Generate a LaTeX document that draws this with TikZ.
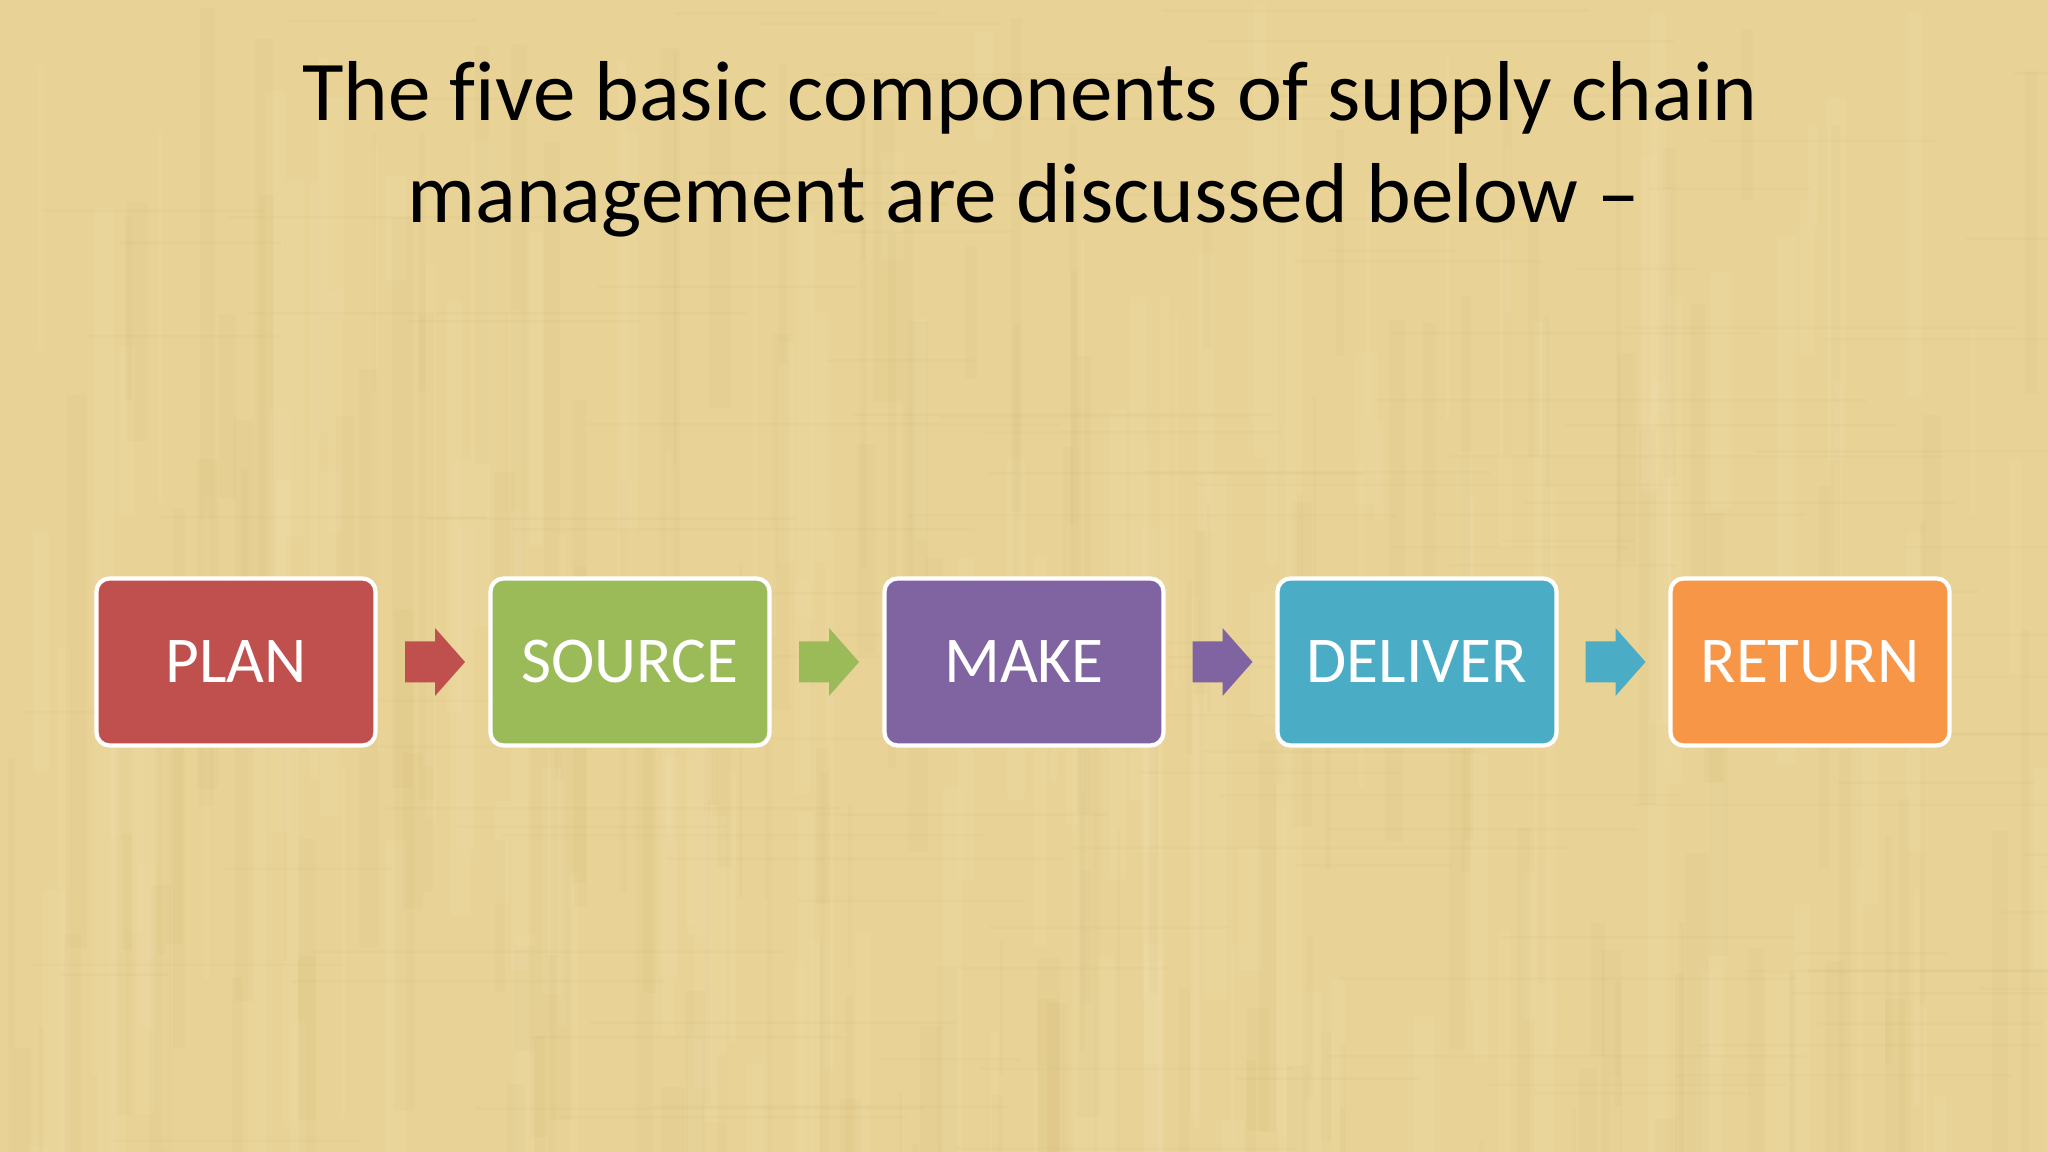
\documentclass[tikz,border=0pt]{standalone}
\usepackage{fontspec}
\setmainfont[Ligatures={NoCommon}]{Carlito}
\usetikzlibrary{calc}
\definecolor{bg}{HTML}{E8D296}
\definecolor{bgdark}{HTML}{C9AE6A}
\definecolor{bglight}{HTML}{F3E4B6}
\definecolor{cplan}{HTML}{C0504D}
\definecolor{csource}{HTML}{9BBB59}
\definecolor{cmake}{HTML}{8064A2}
\definecolor{cdeliver}{HTML}{4BACC6}
\definecolor{creturn}{HTML}{F79646}
\tikzset{
  stagebox/.style={draw=white, line width=1.2pt, rounded corners=0.13cm,
    minimum width=2.79cm, minimum height=1.67cm, inner sep=0pt,
    text=white, font=\fontsize{18.6}{22}\selectfont},
  titletext/.style={anchor=base, inner sep=0pt, text=black,
    font=\fontsize{24.2}{29}\selectfont}
}
\begin{document}
\begin{tikzpicture}
\useasboundingbox (0,0) rectangle (20.48,11.52);
\fill[bg] (0,0) rectangle (20.48,11.52);
% subtle papyrus texture
\pgfmathsetseed{7}
\foreach \i in {1,...,160}{
  \pgfmathsetmacro{\xx}{rnd*20.48}
  \pgfmathsetmacro{\ww}{0.03+rnd*0.2}
  \pgfmathsetmacro{\yy}{rnd*11.52}
  \pgfmathsetmacro{\hh}{1+rnd*5}
  \fill[bgdark, opacity=0.08] (\xx,\yy) rectangle ++(\ww,-\hh);
}
\foreach \i in {1,...,160}{
  \pgfmathsetmacro{\xx}{rnd*20.48}
  \pgfmathsetmacro{\ww}{0.03+rnd*0.2}
  \pgfmathsetmacro{\yy}{rnd*11.52}
  \pgfmathsetmacro{\hh}{1+rnd*5}
  \fill[bglight, opacity=0.14] (\xx,\yy) rectangle ++(\ww,-\hh);
}
\foreach \i in {1,...,120}{
  \pgfmathsetmacro{\xx}{rnd*20.48}
  \pgfmathsetmacro{\yy}{rnd*11.52}
  \pgfmathsetmacro{\ww}{1+rnd*4}
  \fill[bgdark, opacity=0.07] (\xx,\yy) rectangle ++(\ww,0.03);
}

\node[titletext] (title1) at (10.30,10.31) {The five basic components of supply chain};
\node[titletext] (title2) at (10.24,9.29) {management are discussed below \textendash};

\node[stagebox, fill=cplan]    (plan)    at (2.36,4.90)  {PLAN};
\node[stagebox, fill=csource]  (source)  at (6.30,4.90)  {SOURCE};
\node[stagebox, fill=cmake]    (make)    at (10.24,4.90) {MAKE};
\node[stagebox, fill=cdeliver] (deliver) at (14.17,4.90) {DELIVER};
\node[stagebox, fill=creturn]  (return)  at (18.10,4.90) {RETURN};

\foreach \a/\b/\c in {plan/source/cplan, source/make/csource, make/deliver/cmake, deliver/return/cdeliver}{
  \coordinate (m\a) at ($(\a.east)!0.5!(\b.west)+(0.02,0)$);
  \fill[\c, shift={(m\a)}] (-0.30,0.205) -- (0,0.205) -- (0,0.34) -- (0.30,0)
     -- (0,-0.34) -- (0,-0.205) -- (-0.30,-0.205) -- cycle;
}
\end{tikzpicture}
\end{document}
